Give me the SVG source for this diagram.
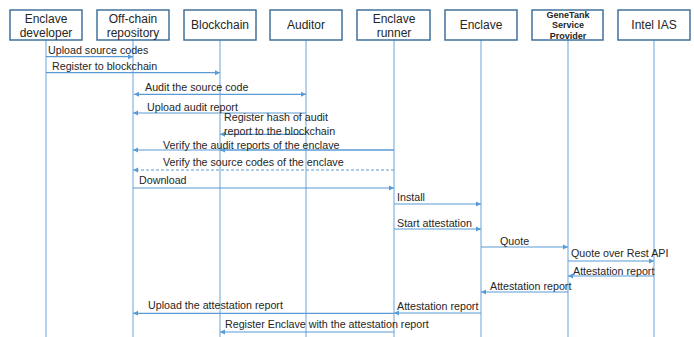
<svg xmlns="http://www.w3.org/2000/svg" width="694" height="337" viewBox="0 0 694 337">
<style>
.box{fill:#fff;stroke:#41719c;stroke-width:1.5}
.life{stroke:#9dc3e6;stroke-width:1.5;fill:none}
.hd{font-family:"Liberation Sans",Arial,sans-serif;font-size:12px;fill:#262626;text-anchor:middle}
.hb{font-family:"Liberation Sans",Arial,sans-serif;font-size:9px;font-weight:bold;fill:#262626;text-anchor:middle}
.msg{stroke:#5b9bd5;stroke-width:1.2;fill:none;marker-end:url(#ah)}
.dash{stroke-dasharray:3,2}
.lb{font-family:"Liberation Sans",Arial,sans-serif;font-size:10.7px;fill:#262626}
</style>
<defs>
<marker id="ah" markerUnits="userSpaceOnUse" markerWidth="6" markerHeight="6" refX="5" refY="3" orient="auto">
<path d="M0,0.5 L5,3 L0,5.5 Z" fill="#5b9bd5"/>
</marker>
<marker id="ahs" markerUnits="userSpaceOnUse" markerWidth="6" markerHeight="6" refX="0" refY="3" orient="auto">
<path d="M5,0.5 L0,3 L5,5.5 Z" fill="#5b9bd5"/>
</marker>
</defs>
<rect width="694" height="337" fill="#fff"/>
<g id="lifelines">
<line class="life" x1="46" y1="40" x2="46" y2="337"/>
<line class="life" x1="133" y1="40" x2="133" y2="337"/>
<line class="life" x1="220" y1="40" x2="220" y2="337"/>
<line class="life" x1="306" y1="40" x2="306" y2="337"/>
<line class="life" x1="394" y1="40" x2="394" y2="337"/>
<line class="life" x1="481" y1="40" x2="481" y2="337"/>
<line class="life" x1="568" y1="40" x2="568" y2="337"/>
<line class="life" x1="654" y1="40" x2="654" y2="337"/>
</g>
<g id="node-developer"><rect class="box" x="10" y="10" width="72" height="30"/><text class="hd" x="46" y="22.5">Enclave</text><text class="hd" x="46" y="37">developer</text></g>
<g id="node-repository"><rect class="box" x="97" y="10" width="72" height="30"/><text class="hd" x="133" y="22.5">Off-chain</text><text class="hd" x="133" y="37">repository</text></g>
<g id="node-blockchain"><rect class="box" x="184" y="10" width="72" height="30"/><text class="hd" x="220" y="29.3">Blockchain</text></g>
<g id="node-auditor"><rect class="box" x="270" y="10" width="72" height="30"/><text class="hd" x="306" y="29.3">Auditor</text></g>
<g id="node-runner"><rect class="box" x="357" y="10" width="73" height="30"/><text class="hd" x="394" y="22.5">Enclave</text><text class="hd" x="394" y="37">runner</text></g>
<g id="node-enclave"><rect class="box" x="445" y="10" width="72" height="30"/><text class="hd" x="481" y="29.3">Enclave</text></g>
<g id="node-genetank"><rect class="box" x="532" y="10" width="71" height="30"/><text class="hb" x="568" y="17.5">GeneTank</text><text class="hb" x="568" y="28.2">Service</text><text class="hb" x="568" y="38.9">Provider</text></g>
<g id="node-ias"><rect class="box" x="618" y="10" width="72" height="30"/><text class="hd" x="654" y="29.3">Intel IAS</text></g>
<g id="connectors">
<line class="msg" x1="46" y1="56.7" x2="133" y2="56.7"/>
<line class="msg" x1="46" y1="72.7" x2="220" y2="72.7"/>
<line class="msg" x1="134" y1="94.3" x2="306" y2="94.3" marker-start="url(#ahs)"/>
<line class="msg" x1="306" y1="113" x2="133" y2="113"/>
<line class="msg" x1="306" y1="134.3" x2="220" y2="134.3"/>
<line class="msg" x1="394" y1="150" x2="133" y2="150"/>
<line class="msg" x1="394" y1="150" x2="220" y2="150"/>
<line class="msg dash" x1="394" y1="170" x2="133" y2="170"/>
<line class="msg" x1="133" y1="188" x2="394" y2="188"/>
<line class="msg" x1="394" y1="204" x2="481" y2="204"/>
<line class="msg" x1="394" y1="229" x2="481" y2="229"/>
<line class="msg" x1="481" y1="247" x2="568" y2="247"/>
<line class="msg" x1="568" y1="261" x2="654" y2="261"/>
<line class="msg" x1="654" y1="276" x2="568" y2="276"/>
<line class="msg" x1="568" y1="292" x2="481" y2="292"/>
<line class="msg" x1="481" y1="313" x2="394" y2="313"/>
<line class="msg" x1="394" y1="313.3" x2="133" y2="313.3"/>
<line class="msg" x1="394" y1="332" x2="220" y2="332"/>
</g>
<g id="labels">
<text class="lb" x="48" y="53.8">Upload source codes</text>
<text class="lb" x="52" y="69.8">Register to blockchain</text>
<text class="lb" x="145" y="90.8">Audit the source code</text>
<text class="lb" x="147" y="110.8">Upload audit report</text>
<text class="lb" x="224" y="120.8">Register hash of audit</text>
<text class="lb" x="224" y="134.6">report to the blockchain</text>
<text class="lb" x="163" y="148.8">Verify the audit reports of the enclave</text>
<text class="lb" x="163" y="165.8">Verify the source codes of the enclave</text>
<text class="lb" x="139" y="183.8">Download</text>
<text class="lb" x="397" y="200.8">Install</text>
<text class="lb" x="397" y="226.8">Start attestation</text>
<text class="lb" x="500" y="244.8">Quote</text>
<text class="lb" x="571" y="256.8">Quote over Rest API</text>
<text class="lb" x="573" y="274.8">Attestation report</text>
<text class="lb" x="490" y="289.8">Attestation report</text>
<text class="lb" x="397" y="309.8">Attestation report</text>
<text class="lb" x="148" y="308.8">Upload the attestation report</text>
<text class="lb" x="225" y="327.8">Register Enclave with the attestation report</text>
</g>
</svg>
